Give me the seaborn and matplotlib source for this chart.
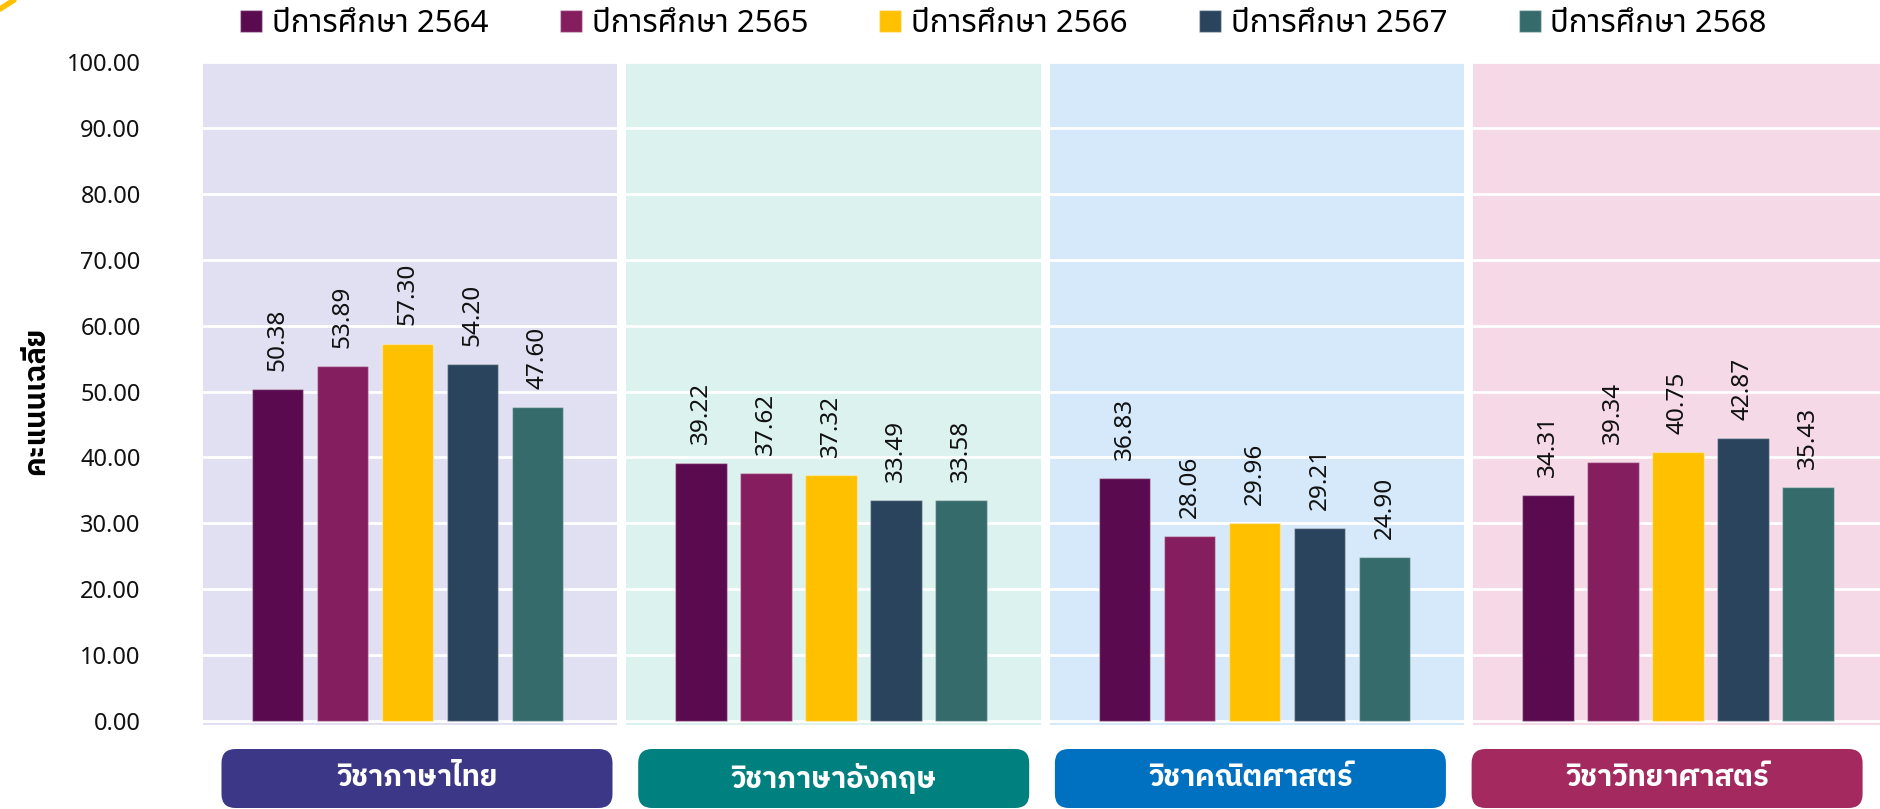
import matplotlib
matplotlib.use("Agg")
import numpy as np
import pandas as pd
import seaborn as sns
import matplotlib.pyplot as plt
from matplotlib.patches import FancyBboxPatch
from matplotlib.lines import Line2D
from matplotlib.transforms import IdentityTransform

# ---------------- data ----------------
subjects = ["วิชาภาษาไทย", "วิชาภาษาอังกฤษ", "วิชาคณิตศาสตร์", "วิชาวิทยาศาสตร์"]
years = ["ปีการศึกษา 2564", "ปีการศึกษา 2565", "ปีการศึกษา 2566",
         "ปีการศึกษา 2567", "ปีการศึกษา 2568"]
score_2564 = [50.38, 39.22, 36.83, 34.31]
score_2565 = [53.89, 37.62, 28.06, 39.34]
score_2566 = [57.30, 37.32, 29.96, 40.75]
score_2567 = [54.20, 33.49, 29.21, 42.87]
score_2568 = [47.60, 33.58, 24.90, 35.43]
y_ticks = [0, 10, 20, 30, 40, 50, 60, 70, 80, 90, 100]
y_label = "คะแนนเฉลี่ย"

bar_colors = ["#5A0A4E", "#841E5F", "#FFC000", "#2A445D", "#366B6C"]
panel_colors = ["#E1DFF2", "#DCF2EE", "#D5E9FB", "#F6D9E7"]
box_colors = ["#3D3787", "#00807F", "#0070C0", "#A3295E"]

series = [score_2564, score_2565, score_2566, score_2567, score_2568]
df = pd.DataFrame(
    [(s, y, v) for y, vals in zip(years, series) for s, v in zip(subjects, vals)],
    columns=["subject", "year", "score"],
)

# ---------------- style ----------------
sns.set_style("white")
plt.rcParams["font.family"] = ["Noto Sans Thai", "DejaVu Sans"]
plt.rcParams["text.color"] = "#000000"
BOLD_FAMILY = ["IBM Plex Sans Thai", "Noto Sans Thai", "DejaVu Sans"]

W, H = 1880, 809
fig = plt.figure(figsize=(W / 100, H / 100), dpi=100)
ax_left, ax_right, ax_top, ax_bottom = 199, 1880, 62.4, 725
ax = fig.add_axes([ax_left / W, 1 - ax_bottom / H,
                   (ax_right - ax_left) / W, (ax_bottom - ax_top) / H])

sns.barplot(data=df, x="subject", y="score", hue="year",
            order=subjects, hue_order=years, palette=bar_colors,
            saturation=1, width=0.767, gap=0.21, errorbar=None, ax=ax,
            edgecolor=(1, 1, 1, 0.35), linewidth=1, zorder=2)

# coloured category bands
g, d = 0.011, 0.006
for i, c in enumerate(panel_colors):
    ax.axvspan(i - 0.5 + g + d, i + 0.5 - g + d, color=c, lw=0, zorder=0.1)

ax.set_xlim(-0.492, 3.477)
ax.set_ylim(-0.65, 100)
ax.set_yticks(y_ticks)
ax.set_yticklabels([f"{t:.2f}" for t in y_ticks])
ax.tick_params(axis="y", length=0, pad=42, labelsize=17, labelcolor="#111111")
ax.tick_params(axis="x", length=0, labelbottom=False)
ax.set_xlabel("")
ax.set_ylabel("")
for sp in ax.spines.values():
    sp.set_visible(False)
ax.set_axisbelow(True)
ax.yaxis.grid(True, color="white", linewidth=2, zorder=0.5)
ax.xaxis.grid(False)

# value labels
for cont in ax.containers:
    vals = [p.get_height() for p in cont]
    ax.bar_label(cont, labels=[f"{v:.2f}" for v in vals], rotation=90,
                 padding=13, fontsize=17.5, color="#111111")

# legend
handles, labels = ax.get_legend_handles_labels()
if ax.legend_ is not None:
    ax.legend_.remove()
fig.legend(handles, labels, loc="center left",
           bbox_to_anchor=(240 / W, 1 - 24 / H), ncol=5, frameon=False,
           fontsize=22.5, handlelength=0.7, handleheight=0.7,
           handletextpad=0.32, columnspacing=2.28, borderpad=0,
           borderaxespad=0)

# y-axis title
fig.text(36 / W, 1 - 401 / H, y_label, rotation=90, fontsize=21,
         fontweight="bold", family=BOLD_FAMILY, ha="center", va="center")

# category label boxes
box_w, box_h, box_y0 = 391, 59, 1
box_first, box_step = 417, 416.7
for i, (name, c) in enumerate(zip(subjects, box_colors)):
    cx = box_first + box_step * i
    patch = FancyBboxPatch((cx - box_w / 2, box_y0), box_w, box_h,
                           boxstyle="round,pad=0,rounding_size=14",
                           facecolor=c, edgecolor="none",
                           transform=IdentityTransform())
    fig.add_artist(patch)
    fig.text(cx / W, (box_y0 + box_h / 2) / H, name, color="white",
             fontsize=21, fontweight="bold", family=BOLD_FAMILY,
             ha="center", va="center")

# small yellow corner accent
fig.add_artist(Line2D([0, 14 / W], [1 - 9 / H, 1], color="#FFC000",
                      lw=4, transform=fig.transFigure))

fig.savefig("out.png", dpi=100)
